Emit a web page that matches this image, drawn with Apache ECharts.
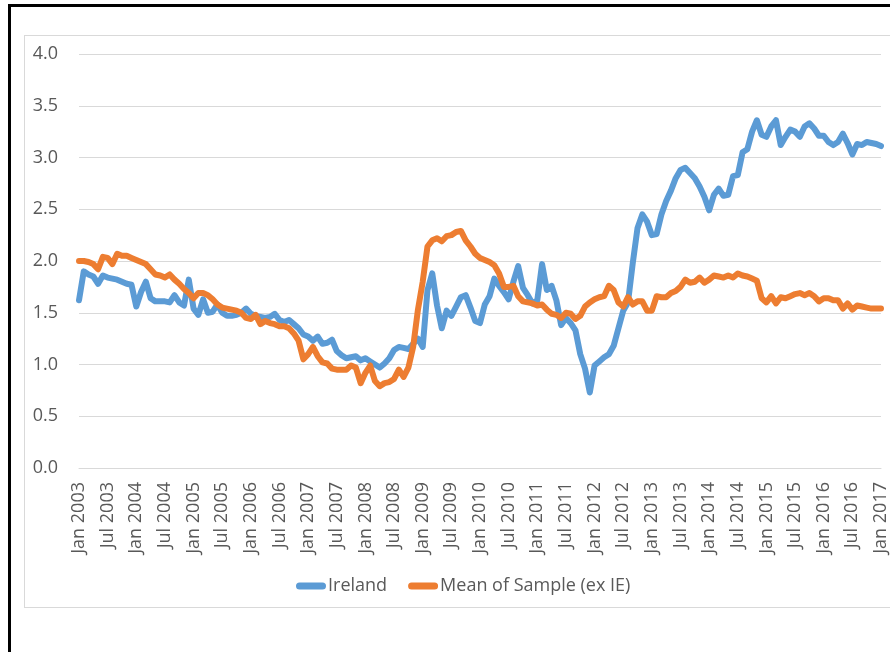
<!DOCTYPE html>
<html>
<head>
<meta charset="utf-8">
<script src="https://cdn.jsdelivr.net/npm/echarts@6/dist/echarts.min.js"></script>
<style>
  html, body { margin: 0; padding: 0; background: #fff; overflow: hidden; }
  #frame { position: absolute; left: 8px; top: 4px; width: 900px; height: 700px; border-left: 3px solid #000; border-top: 3px solid #000; }
  #box { position: absolute; left: 24px; top: 35px; width: 900px; height: 571px; border: 1px solid #d9d9d9; }
  #main { position: absolute; left: 0; top: 0; width: 890px; height: 652px; }
</style>
</head>
<body>
<div id="frame"></div>
<div id="box"></div>
<div id="main"></div>
<script>
// monthly, Jan 2003 .. Jan 2017
var monthNames = ["Jan", "Feb", "Mar", "Apr", "May", "Jun", "Jul", "Aug", "Sep", "Oct", "Nov", "Dec"];
var categories = [];
for (var y = 2003; y <= 2017; y++) {
  for (var m = 0; m < 12; m++) {
    if (y === 2017 && m > 0) break;
    categories.push(monthNames[m] + " " + y);
  }
}

var ireland = [
  1.62, 1.90, 1.87, 1.85, 1.78, 1.86, 1.84, 1.83, 1.82, 1.80, 1.78, 1.77, // 2003
  1.56, 1.70, 1.80, 1.64, 1.61, 1.61, 1.61, 1.60, 1.67, 1.60, 1.57, 1.82, // 2004
  1.54, 1.48, 1.63, 1.50, 1.51, 1.58, 1.50, 1.47, 1.47, 1.48, 1.50, 1.54, // 2005
  1.49, 1.47, 1.46, 1.45, 1.46, 1.49, 1.43, 1.41, 1.43, 1.39, 1.35, 1.29, // 2006
  1.27, 1.23, 1.27, 1.20, 1.21, 1.24, 1.13, 1.09, 1.06, 1.07, 1.08, 1.04, // 2007
  1.06, 1.03, 1.00, 0.97, 1.01, 1.06, 1.14, 1.17, 1.16, 1.15, 1.20, 1.25, // 2008
  1.17, 1.72, 1.88, 1.57, 1.35, 1.52, 1.47, 1.56, 1.65, 1.67, 1.55, 1.42, // 2009
  1.40, 1.58, 1.66, 1.83, 1.76, 1.70, 1.63, 1.80, 1.95, 1.74, 1.67, 1.59, // 2010
  1.62, 1.97, 1.72, 1.76, 1.62, 1.38, 1.45, 1.40, 1.33, 1.10, 0.96, 0.73, // 2011
  0.99, 1.03, 1.07, 1.10, 1.18, 1.35, 1.52, 1.60, 1.98, 2.32, 2.45, 2.38, // 2012
  2.25, 2.26, 2.45, 2.58, 2.68, 2.80, 2.88, 2.90, 2.85, 2.80, 2.72, 2.62, // 2013
  2.49, 2.64, 2.70, 2.63, 2.64, 2.82, 2.83, 3.05, 3.08, 3.25, 3.36, 3.22, // 2014
  3.20, 3.30, 3.36, 3.12, 3.20, 3.27, 3.25, 3.20, 3.30, 3.33, 3.28, 3.21, // 2015
  3.21, 3.15, 3.12, 3.15, 3.23, 3.14, 3.03, 3.13, 3.12, 3.15, 3.14, 3.13, // 2016
  3.11                                                                    // Jan 2017
];

var sampleMean = [
  2.00, 2.00, 1.99, 1.97, 1.92, 2.04, 2.03, 1.97, 2.07, 2.05, 2.05, 2.03, // 2003
  2.01, 1.99, 1.97, 1.92, 1.87, 1.86, 1.84, 1.87, 1.82, 1.78, 1.73, 1.69, // 2004
  1.64, 1.69, 1.69, 1.67, 1.63, 1.58, 1.55, 1.54, 1.53, 1.52, 1.50, 1.45, // 2005
  1.44, 1.48, 1.39, 1.42, 1.40, 1.39, 1.37, 1.37, 1.35, 1.30, 1.23, 1.05, // 2006
  1.10, 1.17, 1.08, 1.02, 1.01, 0.96, 0.95, 0.95, 0.95, 0.99, 0.97, 0.82, // 2007
  0.92, 0.99, 0.84, 0.79, 0.82, 0.83, 0.86, 0.95, 0.88, 0.97, 1.17, 1.53, // 2008
  1.80, 2.14, 2.20, 2.22, 2.19, 2.24, 2.25, 2.28, 2.29, 2.20, 2.14, 2.07, // 2009
  2.03, 2.01, 1.99, 1.96, 1.88, 1.75, 1.75, 1.76, 1.66, 1.61, 1.60, 1.59, // 2010
  1.57, 1.58, 1.53, 1.49, 1.48, 1.45, 1.50, 1.49, 1.44, 1.47, 1.56, 1.60, // 2011
  1.63, 1.65, 1.66, 1.76, 1.72, 1.60, 1.56, 1.65, 1.58, 1.61, 1.61, 1.52, // 2012
  1.52, 1.66, 1.65, 1.65, 1.69, 1.71, 1.75, 1.82, 1.79, 1.80, 1.84, 1.79, // 2013
  1.82, 1.86, 1.85, 1.84, 1.86, 1.84, 1.88, 1.86, 1.85, 1.83, 1.81, 1.64, // 2014
  1.60, 1.66, 1.59, 1.65, 1.64, 1.66, 1.68, 1.69, 1.67, 1.69, 1.66, 1.61, // 2015
  1.64, 1.64, 1.62, 1.62, 1.54, 1.59, 1.53, 1.57, 1.56, 1.55, 1.54, 1.54, // 2016
  1.54                                                                    // Jan 2017
];

var yTicks = [0, 0.5, 1.0, 1.5, 2.0, 2.5, 3.0, 3.5, 4.0];

var font = "'Open Sans', 'Noto Sans', sans-serif";
var grey = "#595959";
var capsule = "path://M3.5,0H26.5A3.5,3.5,0,0,1,26.5,7H3.5A3.5,3.5,0,0,1,3.5,0Z";

var chart = echarts.init(document.getElementById("main"));

var option = {
  animation: false,
  textStyle: { fontFamily: font },
  grid: { left: 79, right: 5, top: 54, bottom: 184, containLabel: false },
  legend: {
    left: 291,
    top: 572,
    itemWidth: 30,
    itemHeight: 7,
    itemGap: 21,
    icon: capsule,
    textStyle: { fontFamily: font, fontSize: 18, color: grey, padding: [0, 0, 0, -3] },
    data: ["Ireland", "Mean of Sample (ex IE)"]
  },
  xAxis: {
    type: "category",
    data: categories,
    boundaryGap: false,
    axisLine: { lineStyle: { color: "#d9d9d9", width: 1 } },
    axisTick: { show: false },
    axisLabel: {
      interval: 5,
      rotate: 90,
      margin: 14,
      fontSize: 18,
      color: grey,
      fontFamily: font
    },
    splitLine: { show: false }
  },
  yAxis: {
    type: "value",
    min: yTicks[0],
    max: yTicks[yTicks.length - 1],
    interval: 0.5,
    axisLine: { show: false },
    axisTick: { show: false },
    axisLabel: {
      margin: 21,
      fontSize: 18,
      color: grey,
      fontFamily: font,
      formatter: function (v) { return v.toFixed(1); }
    },
    splitLine: { lineStyle: { color: "#d9d9d9", width: 1 } }
  },
  series: [
    {
      name: "Ireland",
      type: "line",
      data: ireland,
      showSymbol: false,
      symbol: "none",
      color: "#5b9bd5",
      lineStyle: { width: 6, color: "#5b9bd5", cap: "round", join: "round" }
    },
    {
      name: "Mean of Sample (ex IE)",
      type: "line",
      data: sampleMean,
      showSymbol: false,
      symbol: "none",
      color: "#ed7d31",
      lineStyle: { width: 6, color: "#ed7d31", cap: "round", join: "round" }
    }
  ]
};

chart.setOption(option);
</script>
</body>
</html>
